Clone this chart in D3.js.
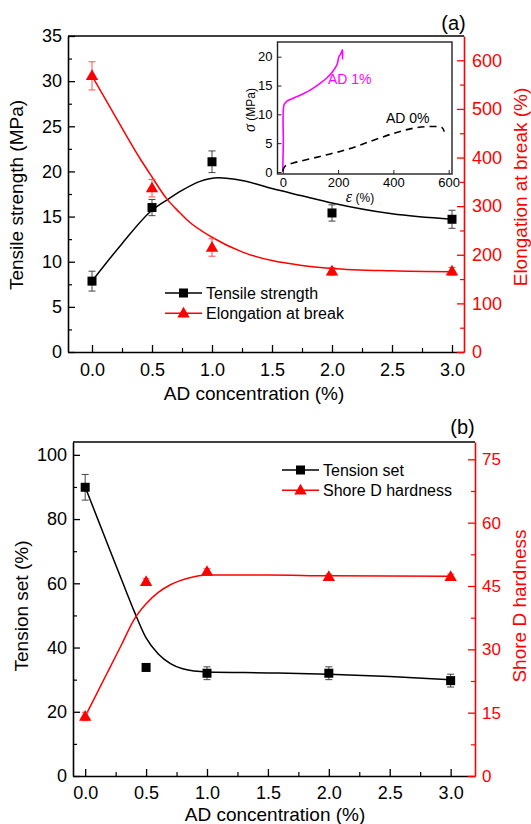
<!DOCTYPE html>
<html><head><meta charset="utf-8">
<script src="https://cdn.jsdelivr.net/npm/d3@7"></script>
<style>
body{margin:0;background:#fff}
svg{display:block}
text{font-family:"Liberation Sans",Arial,sans-serif}
</style>
</head><body>
<svg id="c" width="531" height="824"></svg>
<script>
// ---------------- DATA ----------------
const adConc = [0, 0.5, 1.0, 2.0, 3.0];
// panel (a)
const tensileStrength = [7.85, 16.0, 21.07, 15.4, 14.7];
const tensileErr      = [1.1, 0.9, 1.2, 0.9, 1.0];
const elongation      = [568, 337, 215, 166, 166];
const elongationErr   = [29, 18, 18, 8, 8];
const tensileFitX = [0, 0.25, 0.5, 0.62, 0.75, 0.9, 1.05, 1.25, 1.5, 1.75, 2.0, 2.5, 3.0];
const tensileFitY = [7.85, 12, 15.7, 16.8, 17.9, 18.9, 19.3, 19.0, 18.1, 17.3, 16.5, 15.3, 14.7];
const elongFitX = [0, 0.2, 0.4, 0.5, 0.62, 0.73, 0.8, 1.0, 1.25, 1.5, 1.75, 2.0, 2.5, 3.0];
const elongFitY = [568, 482, 398, 360, 316, 287, 270, 236, 206, 188, 178, 172, 167, 165];
// inset stress-strain
const ad1Strain = [0, 2, 5, 15, 38, 70, 99, 130, 159, 180, 196, 203, 210, 216, 216];
const ad1Stress = [0, 5, 11.7, 12.3, 12.8, 13.5, 14.2, 15.2, 16.3, 17.4, 18.6, 20.0, 20.5, 21.2, 19.5];
const ad0Strain = [0, 8, 38, 135, 232, 316, 401, 473, 546, 576, 584];
const ad0Stress = [0.1, 1.0, 1.55, 2.7, 3.9, 5.3, 6.7, 7.6, 7.9, 7.7, 7.0];
// panel (b)
const tensionSet    = [89.9, 33.8, 32.0, 32.0, 29.7];
const tensionSetErr = [4, 0, 2, 2, 2];
const shoreD        = [14.1, 46.0, 48.4, 47.2, 47.2];
const shoreDErr     = [1, 0.7, 0.7, 0.6, 0.6];
const tensionFitX = [0, 0.1, 0.2, 0.3, 0.4, 0.5, 0.6, 0.7, 0.8, 1.0, 1.5, 2.0, 2.5, 3.0];
const tensionFitY = [90, 80.3, 70.6, 61, 51.5, 43, 38, 35, 33.4, 32.4, 32.1, 31.7, 31, 30];
const shoreFitX = [0, 0.1, 0.2, 0.3, 0.4, 0.5, 0.6, 0.7, 0.85, 1.0, 1.5, 2.0, 3.0];
const shoreFitY = [14.1, 19.8, 25.5, 31.2, 37, 40.8, 43.5, 45.3, 46.9, 47.6, 47.6, 47.4, 47.3];
// ticks
const xTicks = [0, 0.5, 1.0, 1.5, 2.0, 2.5, 3.0];
const xMinor = [-0.25, 0.25, 0.75, 1.25, 1.75, 2.25, 2.75, 3.25];
const tsTicks = [0, 5, 10, 15, 20, 25, 30, 35];
const tsMinor = [2.5, 7.5, 12.5, 17.5, 22.5, 27.5, 32.5];
const elTicks = [0, 100, 200, 300, 400, 500, 600];
const elMinor = [50, 150, 250, 350, 450, 550];
const setTicks = [0, 20, 40, 60, 80, 100];
const setMinor = [10, 30, 50, 70, 90];
const hdTicks = [0, 15, 30, 45, 60, 75];
const hdMinor = [7.5, 22.5, 37.5, 52.5, 67.5];
const insetXTicks = [0, 200, 400, 600];
const insetYTicks = [0, 5, 10, 15, 20];

// ---------------- DRAW ----------------
const RED = "#ff0000", MAG = "#ff00ff", BLK = "#000";
const svg = d3.select("#c");
const FONT = '"Liberation Sans", Arial, sans-serif';

function styleAxis(g, color, fs, family) {
  g.select(".domain").attr("stroke", color).attr("stroke-width", 1.6);
  g.selectAll(".tick line").attr("stroke", color).attr("stroke-width", 1.3);
  g.selectAll(".tick text").attr("fill", color).attr("font-size", fs).attr("font-family", family || FONT);
}
function minorAxis(parent, axisFn, scale, vals, color, transform) {
  const g = parent.append("g").attr("transform", transform)
    .call(axisFn(scale).tickValues(vals.filter(v => v >= scale.domain()[0] && v <= scale.domain()[1])).tickFormat("").tickSize(-4).tickSizeOuter(0));
  g.select(".domain").remove();
  g.selectAll(".tick line").attr("stroke", color).attr("stroke-width", 1.2);
}
function errBars(g, xs, ys, es, x, y, color) {
  xs.forEach((d, i) => {
    if (!es[i]) return;
    const cx = x(d), y1 = y(ys[i] - es[i]), y2 = y(ys[i] + es[i]);
    g.append("line").attr("x1", cx).attr("x2", cx).attr("y1", y1).attr("y2", y2).attr("stroke", color).attr("stroke-width", 1);
    [y1, y2].forEach(yy => g.append("line").attr("x1", cx - 3.5).attr("x2", cx + 3.5).attr("y1", yy).attr("y2", yy).attr("stroke", color).attr("stroke-width", 1));
  });
}
const triPath = "M0,-6.5L6.2,4.2L-6.2,4.2Z";
function squares(g, xs, ys, x, y) {
  xs.forEach((d, i) => g.append("rect").attr("x", x(d) - 4.5).attr("y", y(ys[i]) - 4.5).attr("width", 9).attr("height", 9).attr("fill", BLK));
}
function triangles(g, xs, ys, x, y) {
  xs.forEach((d, i) => g.append("path").attr("d", triPath).attr("transform", `translate(${x(d)},${y(ys[i])})`).attr("fill", RED));
}
function fitLine(g, xs, ys, x, y, color, curve) {
  g.append("path").datum(xs.map((d, i) => [d, ys[i]]))
    .attr("d", d3.line().x(d => x(d[0])).y(d => y(d[1])).curve(curve || d3.curveMonotoneX))
    .attr("fill", "none").attr("stroke", color).attr("stroke-width", 1.5);
}
function legend(g, x0, y0, items) {
  items.forEach((it, i) => {
    const yy = y0 + i * 20.3;
    g.append("line").attr("x1", x0).attr("x2", x0 + 37).attr("y1", yy).attr("y2", yy).attr("stroke", it.color).attr("stroke-width", 1.5);
    if (it.marker === "sq") g.append("rect").attr("x", x0 + 18.5 - 4.5).attr("y", yy - 4.5).attr("width", 9).attr("height", 9).attr("fill", BLK);
    else g.append("path").attr("d", triPath).attr("transform", `translate(${x0 + 18.5},${yy})`).attr("fill", RED);
    g.append("text").attr("x", x0 + 41).attr("y", yy + 6).attr("font-size", 16).attr("fill", "#000").text(it.label);
  });
}

// ===== Panel (a) =====
const xA = d3.scaleLinear().domain([-0.2, 3.1]).range([68, 464]);
const yA = d3.scaleLinear().domain([0, 35]).range([352, 36]);
const yA2 = d3.scaleLinear().domain([0, 650]).range([352, 36]);
const gA = svg.append("g");

gA.append("line").attr("x1", 68).attr("x2", 464).attr("y1", 36).attr("y2", 36).attr("stroke", BLK).attr("stroke-width", 1.6);
minorAxis(gA, d3.axisBottom, xA, xMinor, BLK, "translate(0,352)");
minorAxis(gA, d3.axisLeft, yA, tsMinor, BLK, "translate(68,0)");
minorAxis(gA, d3.axisRight, yA2, elMinor, RED, "translate(464,0)");
styleAxis(gA.append("g").attr("transform", "translate(0,352)")
  .call(d3.axisBottom(xA).tickValues(xTicks).tickFormat(d3.format(".1f")).tickSize(-7).tickSizeOuter(0).tickPadding(11)), BLK, 18);
styleAxis(gA.append("g").attr("transform", "translate(68,0)")
  .call(d3.axisLeft(yA).tickValues(tsTicks).tickSize(-7).tickSizeOuter(0).tickPadding(6)), BLK, 18);
styleAxis(gA.append("g").attr("transform", "translate(464,0)")
  .call(d3.axisRight(yA2).tickValues(elTicks).tickSize(-7).tickSizeOuter(0).tickPadding(8)), RED, 18);

gA.append("text").attr("transform", "translate(23,195) rotate(-90)").attr("text-anchor", "middle").attr("font-size", 19).attr("fill", BLK).text("Tensile strength (MPa)");
gA.append("text").attr("transform", "translate(527,187) rotate(-90)").attr("text-anchor", "middle").attr("font-size", 19).attr("fill", RED).text("Elongation at break (%)");
gA.append("text").attr("x", 254).attr("y", 400).attr("text-anchor", "middle").attr("font-size", 19).attr("fill", BLK).text("AD concentration (%)");
gA.append("text").attr("x", 453.5).attr("y", 30).attr("text-anchor", "middle").attr("font-size", 20).attr("fill", BLK).text("(a)");

fitLine(gA, tensileFitX, tensileFitY, xA, yA, BLK);
fitLine(gA, elongFitX, elongFitY, xA, yA2, RED);
errBars(gA, adConc, tensileStrength, tensileErr, xA, yA, "#444");
errBars(gA, adConc, elongation, elongationErr, xA, yA2, "#ff5050");
squares(gA, adConc, tensileStrength, xA, yA);
triangles(gA, adConc, elongation, xA, yA2);

legend(gA, 165, 293, [
  {label: "Tensile strength", color: BLK, marker: "sq"},
  {label: "Elongation at break", color: RED, marker: "tri"}
]);

// ----- inset -----
const xI = d3.scaleLinear().domain([-19, 612]).range([277.5, 452]);
const yI = d3.scaleLinear().domain([-0.35, 22.55]).range([174, 42]);
const gI = svg.append("g");
gI.append("rect").attr("x", 277.5).attr("y", 42).attr("width", 452 - 277.5).attr("height", 132).attr("fill", "#fff").attr("stroke", "#222").attr("stroke-width", 1.4);
const axIx = gI.append("g").attr("transform", "translate(0,174)")
  .call(d3.axisBottom(xI).tickValues(insetXTicks).tickSize(-4).tickSizeOuter(0).tickPadding(4));
axIx.select(".domain").remove();
axIx.selectAll(".tick line").attr("stroke", "#222");
axIx.selectAll(".tick text").attr("font-size", 13).attr("fill", BLK);
const axIy = gI.append("g").attr("transform", "translate(277.5,0)")
  .call(d3.axisLeft(yI).tickValues(insetYTicks).tickSize(-4).tickSizeOuter(0).tickPadding(5));
axIy.select(".domain").remove();
axIy.selectAll(".tick line").attr("stroke", "#222");
axIy.selectAll(".tick text").attr("font-size", 13).attr("fill", BLK);
const yl = gI.append("text").attr("transform", "translate(255,110) rotate(-90)").attr("text-anchor", "middle").attr("fill", BLK);
yl.append("tspan").attr("font-style", "italic").attr("font-size", 16).attr("font-family", '"Liberation Serif", serif').text("σ");
yl.append("tspan").attr("font-size", 12).text(" (MPa)");
const xl = gI.append("text").attr("x", 360).attr("y", 202).attr("text-anchor", "middle").attr("fill", BLK);
xl.append("tspan").attr("font-style", "italic").attr("font-size", 16).attr("font-family", '"Liberation Serif", serif').text("ε");
xl.append("tspan").attr("font-size", 12).text(" (%)");
const lineI = d3.line().x(d => xI(d[0])).y(d => yI(d[1])).curve(d3.curveCatmullRom.alpha(0.5));
gI.append("path").datum(ad1Strain.map((d, i) => [d, ad1Stress[i]])).attr("d", lineI)
  .attr("fill", "none").attr("stroke", MAG).attr("stroke-width", 1.6);
gI.append("path").datum(ad0Strain.map((d, i) => [d, ad0Stress[i]])).attr("d", lineI)
  .attr("fill", "none").attr("stroke", BLK).attr("stroke-width", 1.6).attr("stroke-dasharray", "7,5");
gI.append("text").attr("x", 328).attr("y", 84).attr("font-size", 14).attr("fill", MAG).text("AD 1%");
gI.append("text").attr("x", 386).attr("y", 123).attr("font-size", 14).attr("fill", BLK).text("AD 0%");

// ===== Panel (b) =====
const xB = d3.scaleLinear().domain([-0.1, 3.2]).range([73, 475]);
const yB = d3.scaleLinear().domain([0, 104]).range([776, 442]);
const yB2 = d3.scaleLinear().domain([0, 79.1]).range([776, 442]);
const gB = svg.append("g");
gB.append("line").attr("x1", 73).attr("x2", 475).attr("y1", 442).attr("y2", 442).attr("stroke", BLK).attr("stroke-width", 1.6);
minorAxis(gB, d3.axisBottom, xB, xMinor, BLK, "translate(0,776)");
minorAxis(gB, d3.axisLeft, yB, setMinor, BLK, "translate(73,0)");
minorAxis(gB, d3.axisRight, yB2, hdMinor, RED, "translate(475,0)");
styleAxis(gB.append("g").attr("transform", "translate(0,776)")
  .call(d3.axisBottom(xB).tickValues(xTicks).tickFormat(d3.format(".1f")).tickSize(-7).tickSizeOuter(0).tickPadding(10)), BLK, 18);
styleAxis(gB.append("g").attr("transform", "translate(73,0)")
  .call(d3.axisLeft(yB).tickValues(setTicks).tickSize(-7).tickSizeOuter(0).tickPadding(6)), BLK, 18);
styleAxis(gB.append("g").attr("transform", "translate(475,0)")
  .call(d3.axisRight(yB2).tickValues(hdTicks).tickSize(-7).tickSizeOuter(0).tickPadding(7)), RED, 17, '"Liberation Serif", "Times New Roman", serif');

gB.append("text").attr("transform", "translate(28,606) rotate(-90)").attr("text-anchor", "middle").attr("font-size", 19).attr("fill", BLK).text("Tension set (%)");
gB.append("text").attr("transform", "translate(526,606) rotate(-90)").attr("text-anchor", "middle").attr("font-size", 19).attr("fill", RED).text("Shore D hardness");
gB.append("text").attr("x", 275).attr("y", 821).attr("text-anchor", "middle").attr("font-size", 19).attr("fill", BLK).text("AD concentration (%)");
gB.append("text").attr("x", 462.5).attr("y", 434).attr("text-anchor", "middle").attr("font-size", 20).attr("fill", BLK).text("(b)");

fitLine(gB, tensionFitX, tensionFitY, xB, yB, BLK);
fitLine(gB, shoreFitX, shoreFitY, xB, yB2, RED);
errBars(gB, adConc, tensionSet, tensionSetErr, xB, yB, "#444");
errBars(gB, adConc, shoreD, shoreDErr, xB, yB2, "#ff5050");
squares(gB, adConc, tensionSet, xB, yB);
triangles(gB, adConc, shoreD, xB, yB2);

legend(gB, 282, 470, [
  {label: "Tension set", color: BLK, marker: "sq"},
  {label: "Shore D hardness", color: RED, marker: "tri"}
]);
</script>
</body></html>
